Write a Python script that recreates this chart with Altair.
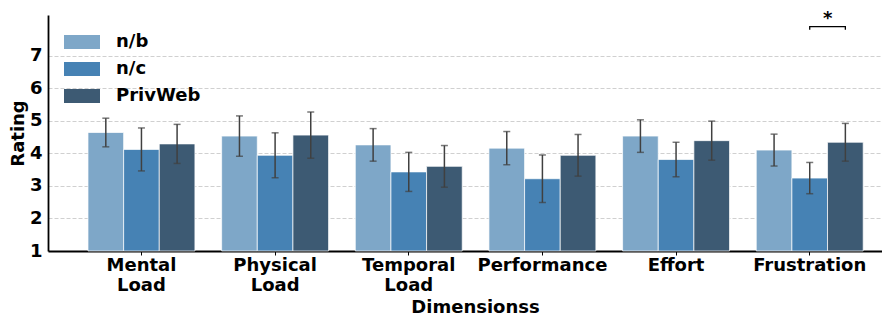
import altair as alt
import pandas as pd

categories = ["Mental Load", "Physical Load", "Temporal Load", "Performance", "Effort", "Frustration"]
methods = ["n/b", "n/c", "PrivWeb"]
colors = ["#7ea7c8", "#4682b4", "#3d5a73"]

nb_mean = [4.64, 4.53, 4.26, 4.16, 4.53, 4.10]
nb_err = [0.44, 0.62, 0.50, 0.51, 0.50, 0.49]
nc_mean = [4.12, 3.94, 3.43, 3.22, 3.81, 3.24]
nc_err = [0.66, 0.69, 0.60, 0.73, 0.53, 0.48]
pw_mean = [4.29, 4.56, 3.60, 3.94, 4.39, 4.34]
pw_err = [0.60, 0.71, 0.64, 0.64, 0.60, 0.58]

y_ticks = [1, 2, 3, 4, 5, 6, 7]

# significance bracket (Frustration: n/c vs PrivWeb)
sig_category = "Frustration"
sig_methods = ["n/c", "n/c", "PrivWeb", "PrivWeb"]
sig_y = [7.80, 7.89, 7.89, 7.80]
sig_star_y = 7.97

rows = []
for m, means, errs in [("n/b", nb_mean, nb_err), ("n/c", nc_mean, nc_err), ("PrivWeb", pw_mean, pw_err)]:
    for c, mu, e in zip(categories, means, errs):
        rows.append({"Dimension": c, "Method": m, "Rating": mu, "lo": mu - e, "hi": mu + e})
df = pd.DataFrame(rows)

br = pd.DataFrame({"Dimension": [sig_category] * 4, "Method": sig_methods, "y": sig_y, "o": [0, 1, 2, 3]})
star = pd.DataFrame({"Dimension": [sig_category], "Method": ["n/c"], "y": [sig_star_y]})

FONT = "DejaVu Sans"

x_enc = alt.X(
    "Dimension:N", sort=categories,
    scale=alt.Scale(paddingInner=0.2, paddingOuter=0.22, align=0.68),
    axis=alt.Axis(title="Dimensionss", labelAngle=0, labelExpr="split(datum.label, ' ')",
                  labelLineHeight=20, tickSize=4, labelPadding=1, titlePadding=4, titleX=427),
)
xoff = alt.XOffset("Method:N", sort=methods, scale=alt.Scale(domain=methods, paddingInner=0, paddingOuter=0))
y_scale = alt.Scale(domain=[1, 8.25], nice=False, zero=False)

bars = alt.Chart(df).mark_bar(stroke="white", strokeWidth=1, strokeOpacity=0.7).encode(
    x=x_enc,
    xOffset=xoff,
    y=alt.Y("Rating:Q", scale=y_scale,
            axis=alt.Axis(title="Rating", values=y_ticks, tickCount=20, format="d", ticks=False,
                          labelPadding=6, labelOverlap=False, grid=True, gridDash=[4, 2],
                          gridColor="#b0b0b0", gridOpacity=0.6, titlePadding=2)),
    y2=alt.datum(1),
    color=alt.Color("Method:N", sort=methods, scale=alt.Scale(domain=methods, range=colors),
                    legend=alt.Legend(orient="none", legendX=16, legendY=9, title=None,
                                      symbolType="M-1,-0.39H1V0.39H-1Z", symbolSize=1296,
                                      symbolStrokeWidth=0, labelOffset=16, rowPadding=0,
                                      labelFontSize=18, labelFont=FONT, labelFontWeight="bold",
                                      labelColor="black", padding=0)),
)

rule = alt.Chart(df).mark_rule(color="#404040", strokeWidth=1.5).encode(
    x=alt.X("Dimension:N", sort=categories), xOffset=xoff,
    y=alt.Y("lo:Q", scale=y_scale), y2="hi:Q",
)
tick_lo = alt.Chart(df).mark_tick(color="#404040", thickness=1.5, size=7, orient="horizontal").encode(
    x=alt.X("Dimension:N", sort=categories), xOffset=xoff, y=alt.Y("lo:Q", scale=y_scale),
)
tick_hi = alt.Chart(df).mark_tick(color="#404040", thickness=1.5, size=7, orient="horizontal").encode(
    x=alt.X("Dimension:N", sort=categories), xOffset=xoff, y=alt.Y("hi:Q", scale=y_scale),
)

bracket = alt.Chart(br).mark_line(color="black", strokeWidth=1.3).encode(
    x=alt.X("Dimension:N", sort=categories), xOffset=xoff,
    y=alt.Y("y:Q", scale=y_scale), order="o:Q",
)
star_t = alt.Chart(star).mark_text(text="*", font=FONT, fontWeight="bold", fontSize=18,
                                   dx=18, baseline="alphabetic", color="black").encode(
    x=alt.X("Dimension:N", sort=categories), xOffset=xoff, y=alt.Y("y:Q", scale=y_scale),
)

chart = alt.layer(bars, rule, tick_lo, tick_hi, bracket, star_t).properties(
    width=834, height=236,
    autosize=alt.AutoSizeParams(type="none"),
    padding={"left": 40, "top": 7, "right": 0, "bottom": 64},
).configure_axis(
    labelFont=FONT, labelFontWeight="bold", labelFontSize=18, labelColor="black",
    titleFont=FONT, titleFontWeight="bold", titleFontSize=18, titleColor="black",
    domainColor="black", domainWidth=1.8, tickColor="black", zindex=1,
).configure_view(stroke=None)

chart.save("out.html", embed_options={"renderer": "svg", "actions": False})
